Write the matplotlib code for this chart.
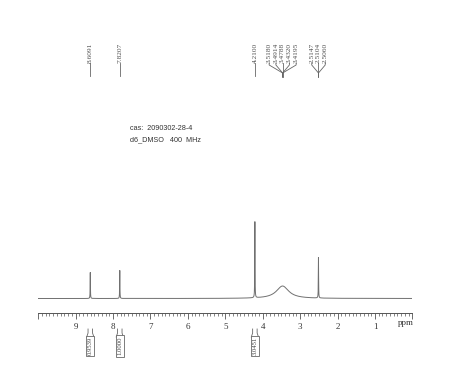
import numpy as np
import matplotlib.pyplot as plt
from matplotlib.ticker import MultipleLocator

# Peaks of the 1H spectrum (ppm, height, half width)
peak_ppm = [8.6091, 7.8207, 4.2100, 3.47, 2.5104]
peak_height = [26.0, 28.0, 76.0, 12.5, 40.5]
peak_hwhm = [0.004, 0.004, 0.004, 0.20, 0.004]

# Peak picking labels (groups share one marker)
label_groups = [
    ["8.6091"],
    ["7.8207"],
    ["4.2100"],
    ["3.5180", "3.4914", "3.4788", "3.4320", "3.4195"],
    ["2.5147", "2.5104", "2.5060"],
]

# Integrals
int_ppm = [8.6091, 7.8207, 4.2100]
int_text = ["0.9539", "1.0000", "3.0451"]

info_lines = ["cas:  2090302-28-4", "d6_DMSO   400  MHz"]

W, H = 474, 376
fig = plt.figure(figsize=(W / 100, H / 100), dpi=100)
ax = fig.add_axes([37.5 / W, (H - 313) / H, (412.4 - 37.5) / W, (313 - 30) / H])

# y data units are pixels above the axis line minus the baseline offset
def py(p):
    return 298.5 - p

x = np.linspace(0, 10.02, 40001)
y = np.zeros_like(x)
for c, h, w in zip(peak_ppm, peak_height, peak_hwhm):
    y += h * w**2 / ((x - c)**2 + w**2)

ax.plot(x, y, color="#707070", lw=0.7)
ax.set_xlim(10.02, 0)
ax.set_ylim(-14.5, 268.5)

for s in ["top", "left", "right"]:
    ax.spines[s].set_visible(False)
ax.spines["bottom"].set_color("#555555")
ax.spines["bottom"].set_linewidth(0.7)
ax.set_yticks([])
ax.set_xticks(range(0, 11))
ax.set_xticklabels([""] + [str(i) for i in range(1, 10)] + [""],
                   family="Liberation Serif", fontsize=6.5, color="#333333")
ax.xaxis.set_minor_locator(MultipleLocator(0.1))
ax.tick_params(axis="x", which="major", length=4, width=0.6, color="#555555", pad=3)
ax.tick_params(axis="x", which="minor", length=2, width=0.5, color="#555555")
ax.text(0.18, py(323), "ppm", family="Liberation Serif", fontsize=6.5,
        color="#333333", ha="center", va="center")

# peak labels on top
lc = "#666666"
spacing = 0.18
for grp in label_groups:
    vals = [float(v) for v in grp]
    center = np.mean(vals)
    n = len(grp)
    for i, t in enumerate(grp):
        lx = center + ((n - 1) / 2 - i) * spacing if n > 1 else vals[0]
        ax.text(lx, py(43), t, rotation=90, family="Liberation Serif", fontsize=5.3,
                color="#505050", ha="center", va="top", clip_on=False)
        if n == 1:
            ax.plot([lx, lx], [py(63), py(76)], color=lc, lw=0.6, clip_on=False)
        else:
            ax.plot([lx, lx, center, center], [py(63), py(65), py(73), py(77)],
                    color=lc, lw=0.6, clip_on=False)

# integrals below the axis
for xi, t in zip(int_ppm, int_text):
    d = 0.06
    ax.plot([xi - d, xi - d, xi - 1.6 * d], [py(329), py(333), py(337)],
            color=lc, lw=0.6, clip_on=False)
    ax.plot([xi + d, xi + d, xi + 1.6 * d], [py(329), py(333), py(337)],
            color=lc, lw=0.6, clip_on=False)
    ax.text(xi, py(346), t, rotation=90, family="Liberation Serif", fontsize=4.8,
            color="#444444", ha="center", va="center", clip_on=False,
            bbox=dict(boxstyle="square,pad=0.2", fc="white", ec="#666666", lw=0.6))

for i, line in enumerate(info_lines):
    fig.text(130 / W, 1 - (128 + 12 * i) / H, line, family="Liberation Sans",
             fontsize=5.2, color="#333333", ha="left", va="center")

fig.savefig("out.png", dpi=100, facecolor="white")
